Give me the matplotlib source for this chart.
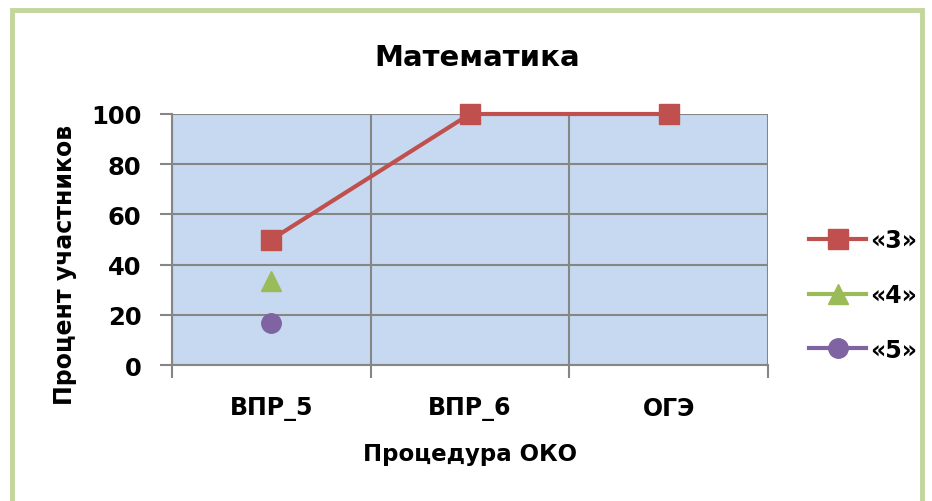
import matplotlib
matplotlib.use("Agg")
import matplotlib.pyplot as plt
import numpy as np
from matplotlib.patches import Rectangle

categories = ["ВПР_5", "ВПР_6", "ОГЭ"]
series_names = ["«3»", "«4»", "«5»"]
grade3 = [50, 100, 100]
grade4 = [33.3, np.nan, np.nan]
grade5 = [16.7, np.nan, np.nan]
yticks = [0, 20, 40, 60, 80, 100]

plt.rcParams['font.family'] = ['DejaVu Sans']
plt.rcParams['font.weight'] = 'bold'

fig = plt.figure(figsize=(9.32, 5.02), dpi=100)
fig.patch.set_facecolor('white')
# border
fig.patches.append(Rectangle((12/932, -0.05), (922-12)/932, 1 - 11/502 + 0.05,
                             transform=fig.transFigure, fill=False,
                             edgecolor='#C3D69B', linewidth=3.5, zorder=0))

ax = fig.add_axes([172/932, 1 - 366/502, (768-172)/932, (366-115)/502])
ax.set_facecolor('#C6D9F1')

x = np.arange(len(categories)) + 0.5
colors = ['#C0504D', '#9BBB59', '#8064A2']
markers = ['s', '^', 'o']
data = [grade3, grade4, grade5]
for vals, name, c, m in zip(data, series_names, colors, markers):
    ax.plot(x, vals, color=c, marker=m, markersize=14, linewidth=3,
            label=name, clip_on=False, zorder=3)

ax.set_xlim(0, len(categories))
ax.set_ylim(0, 100)
ax.set_xticks(np.arange(len(categories) + 1))
ax.set_xticklabels([])
ax.set_xticks(x, minor=True)
ax.set_xticklabels(categories, minor=True, fontsize=17, fontweight='bold')
ax.tick_params(axis='x', which='minor', length=0, pad=22)
ax.tick_params(axis='x', which='major', length=9, color='#868686', width=1.5, direction='out')
ax.set_yticks(yticks)
ax.set_yticklabels([str(v) for v in yticks], fontsize=17.5, fontweight='bold')
ax.tick_params(axis='y', length=9, color='#868686', width=1.5, direction='out', pad=13)
ax.grid(True, which='major', color='#868686', linewidth=1.5)
ax.set_axisbelow(True)
for s in ax.spines.values():
    s.set_color('#868686')
    s.set_linewidth(1.5)
ax.spines['top'].set_visible(False)
ax.spines['right'].set_visible(False)

fig.text(477/932, 1 - 58/502, "Математика", ha='center', va='center',
         fontsize=21, fontweight='bold')
fig.text(470/932, 1 - 455/502, "Процедура ОКО", ha='center', va='center',
         fontsize=16.5, fontweight='bold')
fig.text(65/932, 1 - 265/502, "Процент участников", ha='center', va='center',
         rotation=90, fontsize=17, fontweight='bold')

fig.legend(loc='center left', bbox_to_anchor=(800/932, 1 - 296/502),
           frameon=False, fontsize=17, handlelength=2.4, labelspacing=1.3,
           handletextpad=0.15, borderaxespad=0)

fig.savefig("out.png", dpi=100)
